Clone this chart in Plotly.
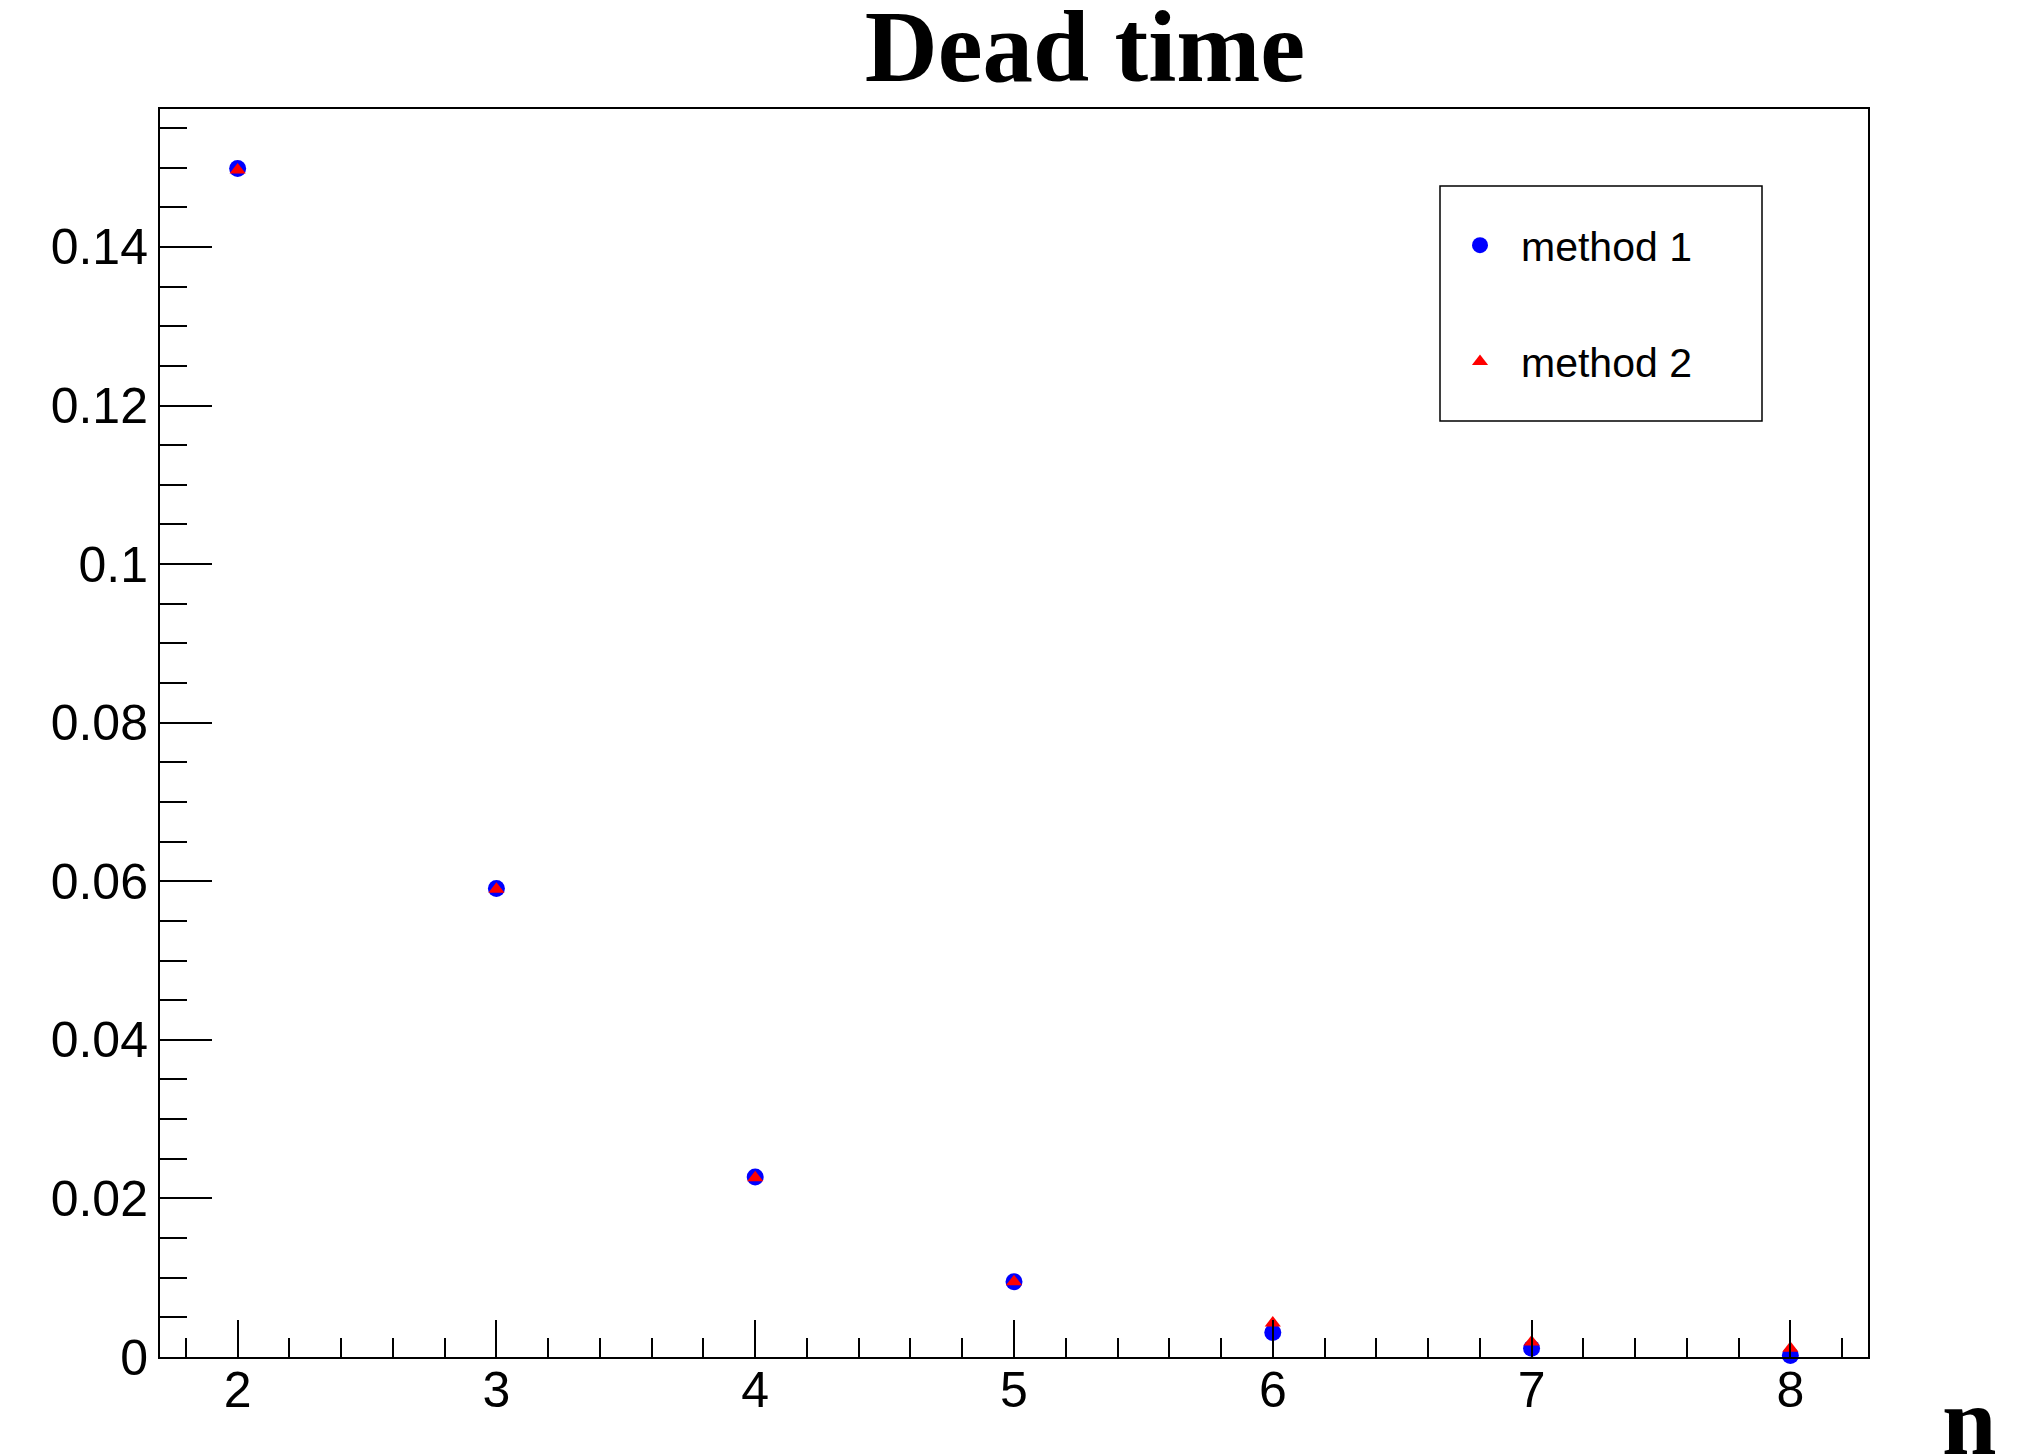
import plotly.graph_objects as go

# ---- data ----
n_values = [2, 3, 4, 5, 6, 7, 8]
method1 = [0.1499, 0.0591, 0.0227, 0.0095, 0.0031, 0.0011, 0.0002]
method2 = [0.1497, 0.0590, 0.0226, 0.0095, 0.0043, 0.0019, 0.0011]
series_names = ["method 1", "method 2"]
x_tickvals = [2, 3, 4, 5, 6, 7, 8]
x_ticktext = ["2", "3", "4", "5", "6", "7", "8"]
y_tickvals = [0, 0.02, 0.04, 0.06, 0.08, 0.10, 0.12, 0.14]
y_ticktext = ["0", "0.02", "0.04", "0.06", "0.08", "0.1", "0.12", "0.14"]
title_text = "Dead time"
x_title = "n"

W, H = 2034, 1456
L, R, T, B = 160, 166, 109, 99

fig = go.Figure()
fig.add_trace(go.Scatter(
    x=n_values, y=method1, mode="markers", name=series_names[0], legendgroup="a",
    marker=dict(symbol="circle", size=17, color="#0000ff", line=dict(width=0)),
    cliponaxis=False,
))
fig.add_trace(go.Scatter(
    x=n_values, y=method2, mode="markers", name=series_names[1], legendgroup="b",
    marker=dict(symbol="triangle-up", size=14, color="#ff0000", line=dict(width=0)),
    cliponaxis=False,
))

tick_font = dict(family="Liberation Sans, Arial, sans-serif", size=50, color="black")

fig.update_xaxes(
    range=[1.7, 8.3], showgrid=False, zeroline=False,
    showline=True, linecolor="black", linewidth=2, mirror=True,
    ticks="inside", ticklen=37, tickwidth=1.5, tickcolor="black",
    tickvals=x_tickvals, ticktext=x_ticktext, tickfont=tick_font,
    ticklabelstandoff=-12,
    minor=dict(ticks="inside", ticklen=19, tickwidth=1.5, tickcolor="black",
               dtick=0.2, tick0=0, showgrid=False),
)
fig.update_yaxes(
    range=[0, 0.1574], showgrid=False, zeroline=False,
    showline=True, linecolor="black", linewidth=2, mirror=True,
    ticks="inside", ticklen=52, tickwidth=1.5, tickcolor="black",
    tickvals=y_tickvals, ticktext=y_ticktext, tickfont=tick_font,
    minor=dict(ticks="inside", ticklen=27, tickwidth=1.5, tickcolor="black",
               dtick=0.005, tick0=0, showgrid=False),
)

pw = W - L - R
ph = H - T - B

# legend frame
fig.add_shape(type="rect", xref="paper", yref="paper",
              x0=(1440 - L) / pw, x1=(1762 - L) / pw,
              y0=(H - B - 421) / ph, y1=(H - B - 186) / ph,
              line=dict(color="black", width=1.5), fillcolor="rgba(0,0,0,0)")

fig.add_annotation(
    text="<b>" + x_title + "</b>", xref="paper", yref="paper",
    x=(1999 - L) / pw, xanchor="right",
    y=(H - B - 1421) / ph, yanchor="middle",
    showarrow=False,
    font=dict(family="Liberation Serif, Times New Roman, serif", size=98, color="black"),
)

fig.update_layout(
    width=W, height=H,
    margin=dict(l=L, r=R, t=T, b=B),
    paper_bgcolor="white", plot_bgcolor="white",
    title=dict(text="<b>" + title_text + "</b>", x=1085 / W, xanchor="center",
               y=1 - 46 / H, yanchor="middle", xref="container", yref="container",
               font=dict(family="Liberation Serif, Times New Roman, serif", size=101, color="black")),
    showlegend=True,
    legend=dict(x=(1439 - L) / pw, xanchor="left", y=(H - B - 212) / ph, yanchor="top",
                bgcolor="rgba(0,0,0,0)", borderwidth=0, itemwidth=72,
                font=dict(family="Liberation Sans, Arial, sans-serif", size=41, color="black"),
                tracegroupgap=60),
)

fig.write_html("out.html", config={"displayModeBar": False},
               post_script="document.body.style.margin='0';document.body.style.overflow='hidden';")
